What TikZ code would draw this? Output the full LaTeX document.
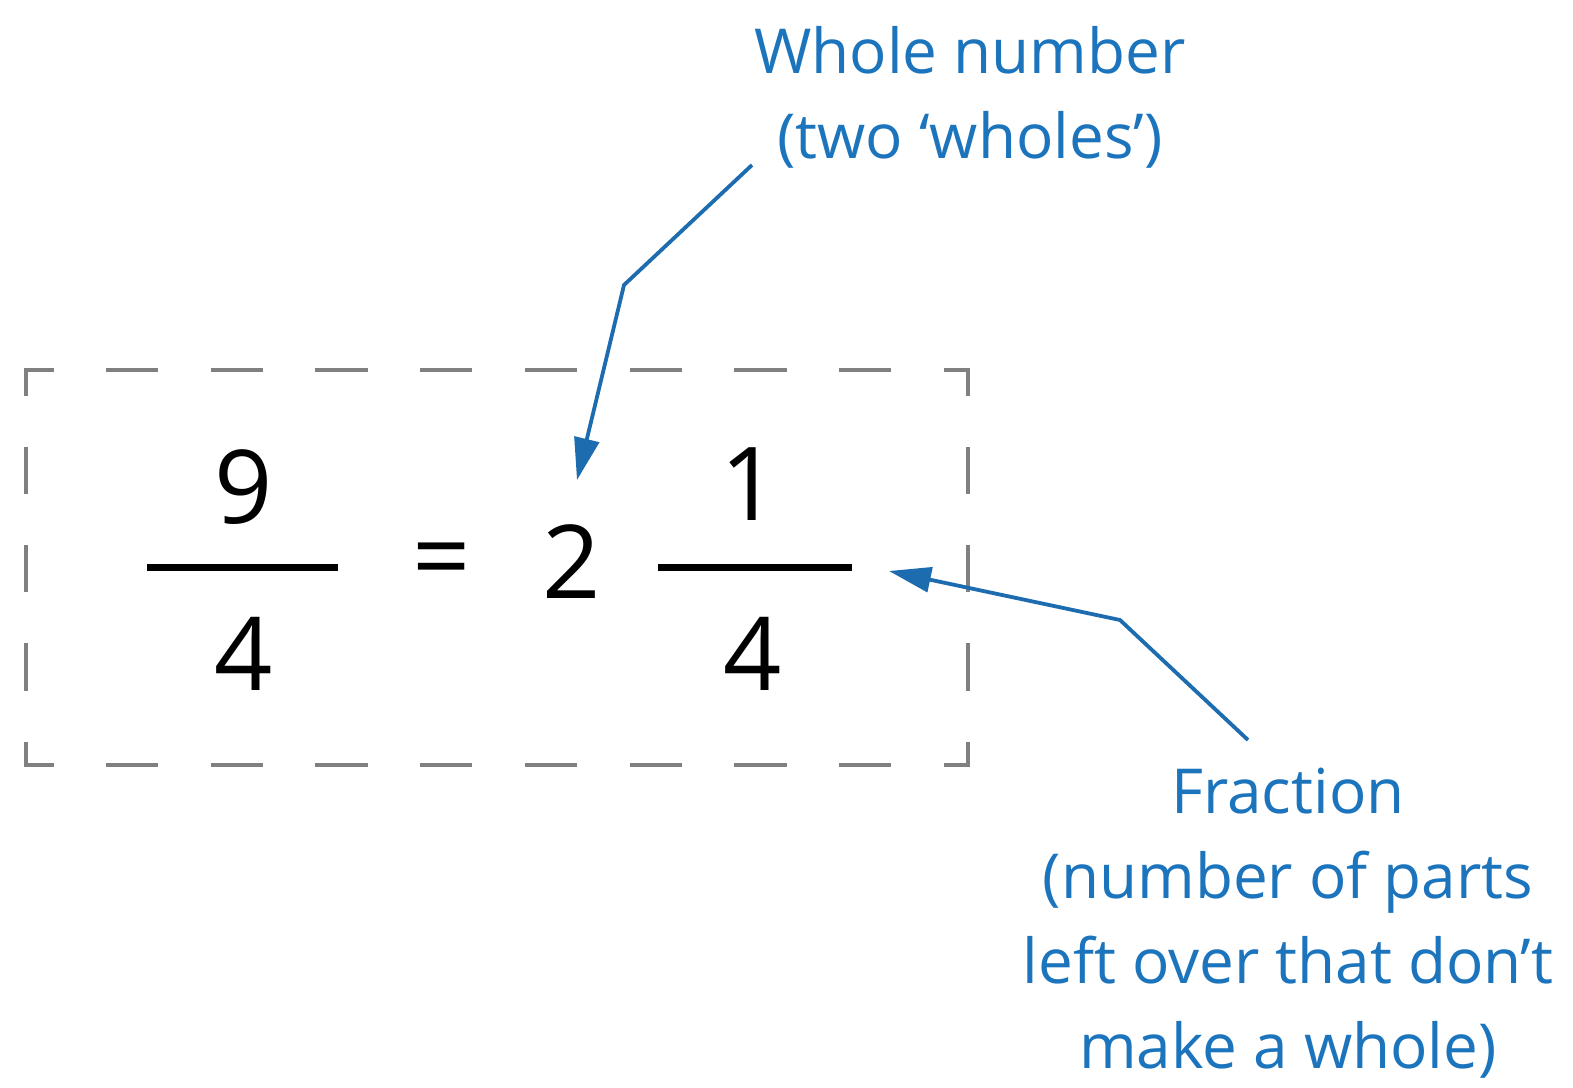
\documentclass[tikz,border=0pt]{standalone}
\usepackage{fontspec}
\setmainfont{Open Sans}
\usetikzlibrary{arrows.meta}
\definecolor{labelblue}{RGB}{28,117,188}
\definecolor{arrowblue}{RGB}{30,108,176}
\definecolor{boxgray}{RGB}{128,128,128}
\begin{document}
\begin{tikzpicture}[x=1pt,y=-1pt,
  numeral/.style={font=\fontsize{102}{102}\selectfont, inner sep=0pt, anchor=base},
  callout/.style={font=\fontsize{62}{85}\selectfont, text=labelblue, align=center, inner sep=0pt},
  pointer/.style={draw=arrowblue, line width=3.8pt, -{Triangle[length=42pt,width=25pt]}},
  fracbar/.style={line width=7pt},
  framedash/.style={draw=boxgray, line width=3.3pt, line cap=rect}]
\fill[white] (0,0) rectangle (1573,1087);
% dashed frame
\draw[framedash, dash pattern=on 49pt off 55.7pt, dash phase=23pt] (26,370) -- (968,370);
\draw[framedash, dash pattern=on 49pt off 55.7pt, dash phase=23pt] (26,765) -- (968,765);
\draw[framedash, dash pattern=on 44pt off 54.3pt, dash phase=20pt] (26,370) -- (26,765);
\draw[framedash, dash pattern=on 44pt off 54.3pt, dash phase=20pt] (968,370) -- (968,765);
% equation
\node[numeral] (n9) at (244,523) {9};
\node[numeral] (d4a) at (244,690) {4};
\draw[fracbar] (147,567) -- (338,567);
\node[font=\fontsize{102}{102}\selectfont, inner sep=0pt] (eq) at (442,568) {=};
\node[numeral] (two) at (572,598) {2};
\node[numeral] (n1) at (750,520) {1};
\node[numeral] (d4b) at (753,690) {4};
\draw[fracbar] (658,567) -- (852,567);
% labels (base anchor = baseline of last line)
\node[callout, anchor=base] (whole) at (970,158) {Whole number\\(two ‘wholes’)};
\node[callout, anchor=base] (frac) at (1288,1068) {Fraction\\(number of parts\\left over that don’t\\make a whole)};
% pointers
\coordinate (wS) at (752,165);
\coordinate (wB) at (624,285);
\coordinate (wT) at (577,480);
\coordinate (fS) at (1248,740);
\coordinate (fB) at (1120,620);
\coordinate (fT) at (889,571);
\draw[pointer] (wS) -- (wB) -- (wT);
\draw[pointer] (fS) -- (fB) -- (fT);
\end{tikzpicture}
\end{document}
